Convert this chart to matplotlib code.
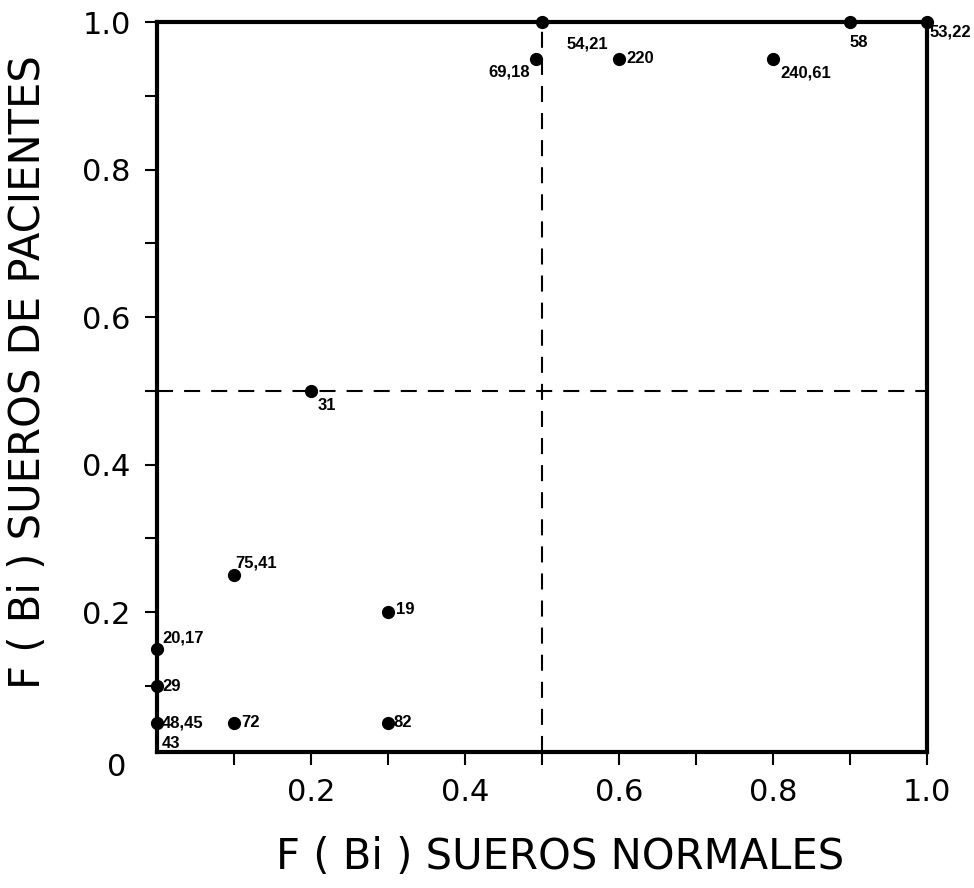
import matplotlib
matplotlib.use("Agg")
import matplotlib.pyplot as plt

# points: (F(Bi) normales, F(Bi) pacientes)
labels = ["54,21", "69,18", "220", "240,61", "58", "53,22", "31",
          "75,41", "19", "20,17", "29", "48,45", "72", "82"]
x_normales = [0.5, 0.492, 0.6, 0.8, 0.9, 1.0, 0.2, 0.1, 0.3, 0.0, 0.0, 0.0, 0.1, 0.3]
y_pacientes = [1.0, 0.95, 0.95, 0.95, 1.0, 1.0, 0.5, 0.25, 0.2, 0.15, 0.10, 0.05, 0.05, 0.05]
extra_label = "43"  # written under 48,45

xticks = [0.1, 0.2, 0.3, 0.4, 0.5, 0.6, 0.7, 0.8, 0.9, 1.0]
tick_text = ["", "0.2", "", "0.4", "", "0.6", "", "0.8", "", "1.0"]

# label offsets in pixels (dx, dy), dy positive = up
offsets = {
    "54,21": (25, -22, "left"), "69,18": (-6, -13, "right"), "220": (7, 0, "left"),
    "240,61": (7, -14, "left"), "58": (0, -20, "left"), "53,22": (3, -10, "left"),
    "31": (7, -15, "left"), "75,41": (1, 12, "left"), "19": (8, 3, "left"),
    "20,17": (5, 11, "left"), "29": (5, 0, "left"), "48,45": (5, 0, "left"),
    "72": (7, 0, "left"), "82": (6, 0, "left"),
}
lab_font = dict(fontsize=12, fontweight="bold", family="Liberation Sans")

fig = plt.figure(figsize=(9.74, 8.88), dpi=100)
ax = fig.add_axes([157/974, 1 - 752/888, (927 - 157)/974, (752 - 22)/888])
ax.set_xlim(0, 1.0)
ax.set_ylim(0.0106, 1.0)

for s in ax.spines.values():
    s.set_linewidth(3)

# dashed reference lines at 0.5
ax.axvline(0.5, color="black", lw=1.5, ls=(0, (7.7, 5.3)))
ax.axhline(0.5, color="black", lw=1.5, ls=(0, (7.7, 5.3)))

ax.plot(x_normales, y_pacientes, "o", ms=8.5, color="black", clip_on=False, zorder=5)
for lab, xv, yv in zip(labels, x_normales, y_pacientes):
    dx, dy, ha = offsets[lab]
    ax.annotate(lab, (xv, yv), xytext=(dx, dy), textcoords="offset pixels",
                ha=ha, va="center", annotation_clip=False, **lab_font)

i = labels.index("48,45")
ax.annotate(extra_label, (x_normales[i], y_pacientes[i]), xytext=(5, -21),
            textcoords="offset pixels", ha="left", va="center",
            annotation_clip=False, **lab_font)

ax.set_xticks(xticks)
ax.set_xticklabels(tick_text)
ax.set_yticks(xticks)
ax.set_yticklabels(tick_text)
ax.tick_params(direction="out", length=9, width=1.5, labelsize=22, pad=10)

fig.text(117/974, 1 - 767/888, "0", ha="center", va="center", fontsize=22)
fig.text(560/974, 1 - 857/888, "F ( Bi ) SUEROS NORMALES", ha="center",
         va="center", fontsize=30)
fig.text(28/974, 1 - 372/888, "F ( Bi ) SUEROS DE PACIENTES", ha="center",
         va="center", rotation=90, fontsize=30)

fig.savefig("out.png", dpi=100)
